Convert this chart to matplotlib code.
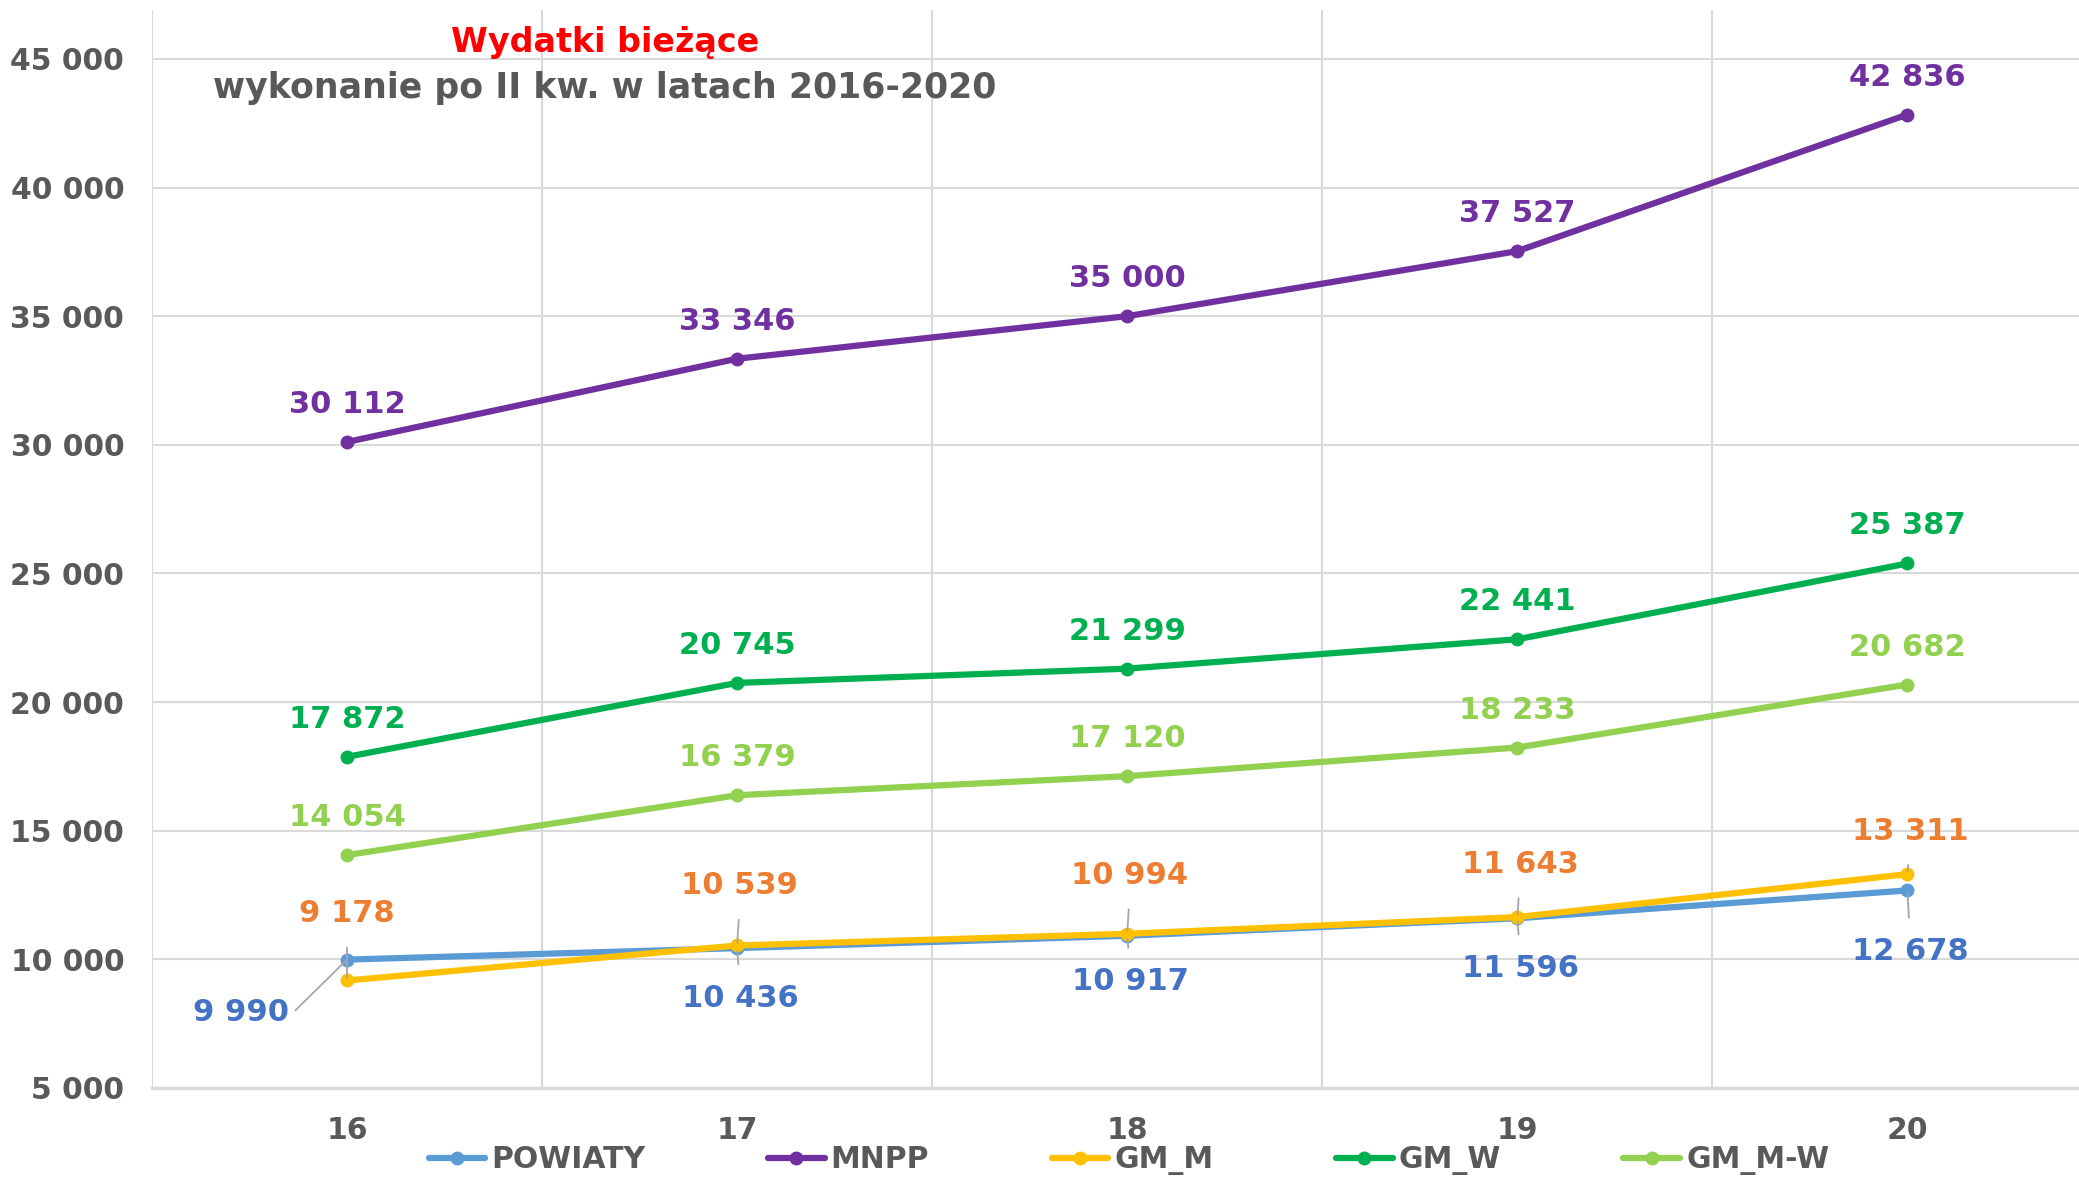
import matplotlib.pyplot as plt

# data
years = ['16', '17', '18', '19', '20']
powiaty = [9990, 10436, 10917, 11596, 12678]
mnpp = [30112, 33346, 35000, 37527, 42836]
gm_m = [9178, 10539, 10994, 11643, 13311]
gm_w = [17872, 20745, 21299, 22441, 25387]
gm_mw = [14054, 16379, 17120, 18233, 20682]
yticks = [5000, 10000, 15000, 20000, 25000, 30000, 35000, 40000, 45000]

def fmt(v):
    return f'{v:,}'.replace(',', ' ')

plt.rcParams['font.family'] = ['DejaVu Sans']
plt.rcParams['font.weight'] = 'bold'

fig = plt.figure(figsize=(20.79, 11.79), dpi=100)
ax = fig.add_axes([0.0731, 0.0772, 0.9269, 0.9143])

x = [i + 0.5 for i in range(len(years))]

series = [
    ('POWIATY', powiaty, '#5B9BD5', '#4472C4'),
    ('MNPP', mnpp, '#7030A0', '#7030A0'),
    ('GM_M', gm_m, '#FFC000', '#ED7D31'),
    ('GM_W', gm_w, '#00B050', '#00B050'),
    ('GM_M-W', gm_mw, '#92D050', '#92D050'),
]
for name, vals, col, lcol in series:
    ax.plot(x, vals, color=col, lw=4.5, marker='o', ms=9, label=name,
            solid_capstyle='round', zorder=3)

LFS = 22

# labels above the point
for name, vals, col, lcol in series[1:2] + series[3:]:
    for xi, v in zip(x, vals):
        ax.annotate(fmt(v), (xi, v), xytext=(0, 27), textcoords='offset points',
                    ha='center', va='center', color=lcol, fontsize=LFS,
                    fontweight='bold')

# GM_M labels with leader lines
gm_m_off = [(0, 48), (2, 43), (2, 42), (2, 38), (2, 31)]
for xi, v, off in zip(x, gm_m, gm_m_off):
    ax.annotate(fmt(v), (xi, v), xytext=off, textcoords='offset points',
                ha='center', va='center', color='#ED7D31', fontsize=LFS,
                fontweight='bold',
                arrowprops=dict(arrowstyle='-', color='#A6A6A6', lw=1.3,
                                shrinkA=12, shrinkB=2, relpos=(0.5, 0)))

# POWIATY labels below
pow_off = [(-76, -38), (2, -36), (2, -33), (2, -36), (2, -44)]
for i, (xi, v, off) in enumerate(zip(x, powiaty, pow_off)):
    rp = (1.04, 0.5) if i == 0 else (0.5, 1)
    ax.annotate(fmt(v), (xi, v), xytext=off, textcoords='offset points',
                ha='center', va='center', color='#4472C4', fontsize=LFS,
                fontweight='bold',
                arrowprops=dict(arrowstyle='-', color='#A6A6A6', lw=1.3,
                                shrinkA=12 if i else 2, shrinkB=2, relpos=rp))

ax.set_xlim(0, 4.94)
ax.set_ylim(5000, 46900)
ax.set_yticks(yticks)
ax.set_yticklabels([fmt(t) for t in yticks], fontsize=21.5, color='#595959',
                   fontweight='bold')
ax.set_xticks(x)
ax.set_xticklabels(years, fontsize=21.5, color='#595959', fontweight='bold')
ax.set_xticks([0, 1, 2, 3, 4], minor=True)
ax.tick_params(axis='both', which='both', length=0)
ax.tick_params(axis='x', pad=20)
ax.tick_params(axis='y', pad=20)
ax.grid(axis='y', color='#D9D9D9', lw=1.5)
ax.grid(axis='x', which='minor', color='#D9D9D9', lw=1.5)
for s in ['top', 'right', 'left']:
    ax.spines[s].set_visible(False)
ax.spines['bottom'].set_color('#D9D9D9')
ax.spines['bottom'].set_linewidth(2.5)
ax.set_axisbelow(True)

fig.text(0.291, 0.964, 'Wydatki bieżące', color='#FF0000', fontsize=24,
         fontweight='bold', ha='center', va='center')
fig.text(0.291, 0.925, 'wykonanie po II kw. w latach 2016-2020', color='#595959',
         fontsize=25, fontweight='bold', ha='center', va='center')

leg = fig.legend(loc='center', bbox_to_anchor=(0.543, 0.016), ncol=5, frameon=False,
                 fontsize=21.5, handlelength=1.9, handletextpad=0.2,
                 columnspacing=4.1)
for t in leg.get_texts():
    t.set_color('#595959')
    t.set_fontweight('bold')

fig.savefig('out.png', dpi=100)
